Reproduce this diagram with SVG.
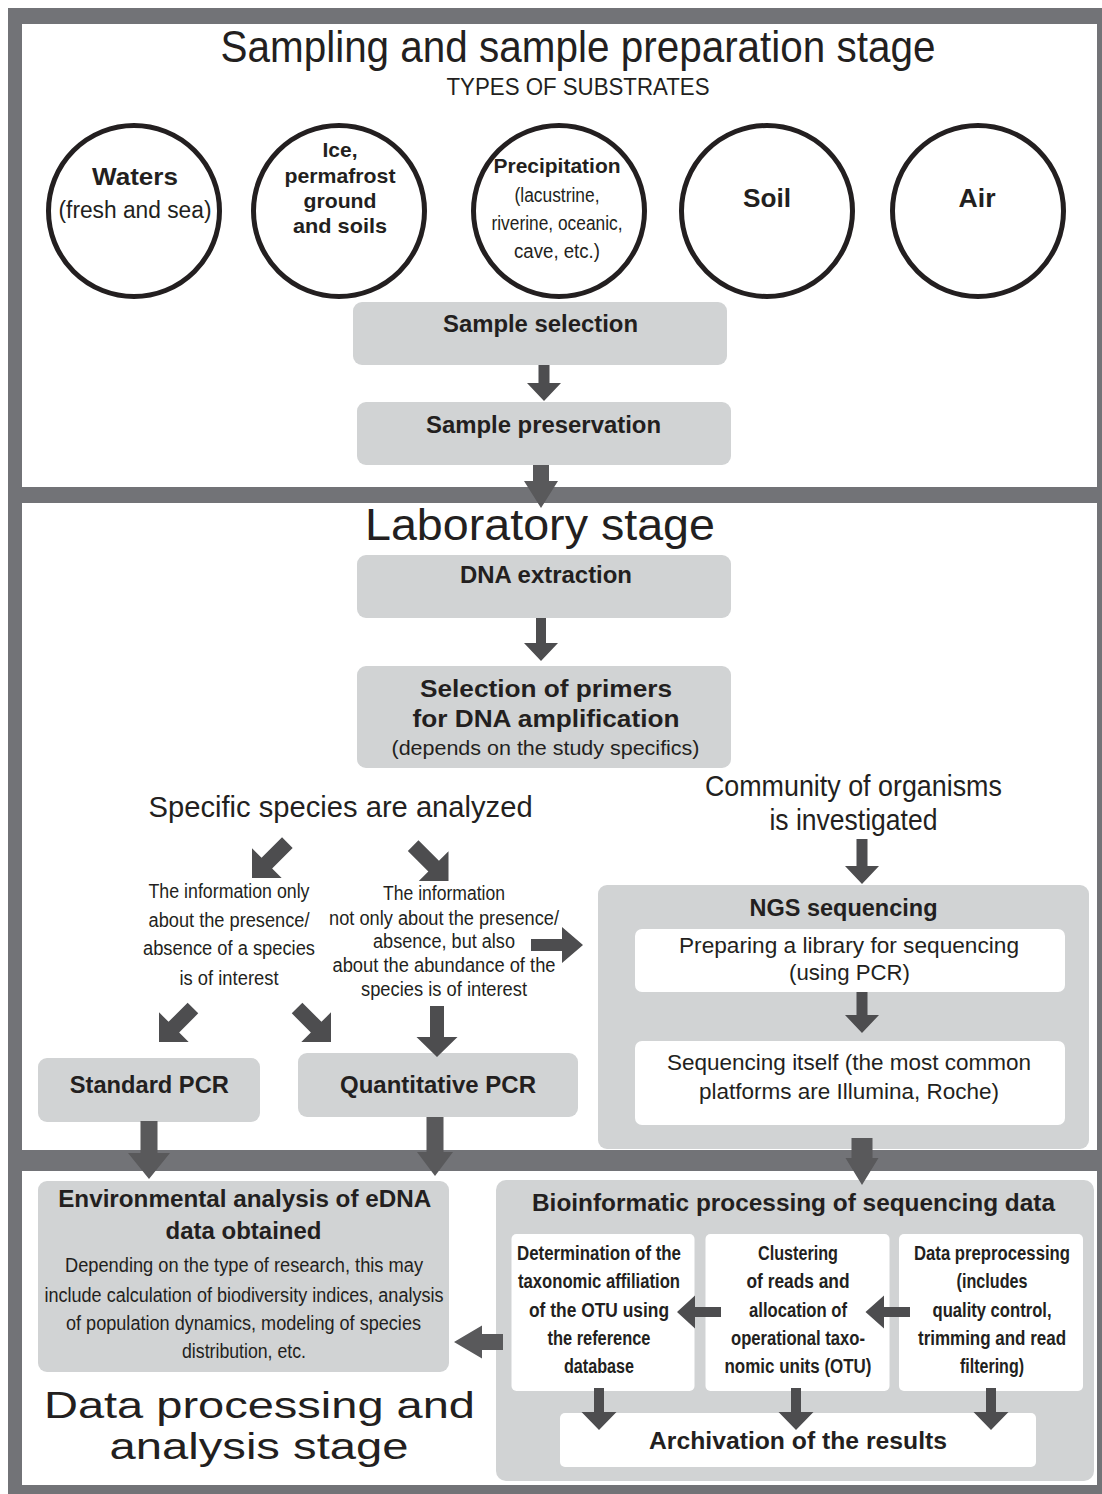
<svg xmlns="http://www.w3.org/2000/svg" width="1102" height="1494" viewBox="0 0 1102 1494">
<style>
text{font-family:"Liberation Sans",Arial,sans-serif;fill:#231f20;text-anchor:middle}
.b{font-weight:bold}
.box{fill:#d1d3d4}
.wbox{fill:#ffffff}
.circ{fill:#ffffff;stroke:#231f20;stroke-width:5}
.arr{fill:#4d4d4f}
.arr2{fill:#59595b}
.frame{fill:#727377}
.panel{fill:#ffffff}
</style>
<rect x="0" y="0" width="1102" height="1494" fill="#ffffff"/>
<g id="frame">
<rect class="frame" x="8" y="8" width="1094" height="1486"/>
<rect class="panel" x="22" y="24" width="1075" height="463"/>
<rect class="panel" x="22" y="503" width="1075" height="647"/>
<rect class="panel" x="22" y="1171" width="1075" height="314"/>
</g>
<g id="stage1-title">
<text x="578" y="62" font-size="45" textLength="715" lengthAdjust="spacingAndGlyphs">Sampling and sample preparation stage</text>
<text x="578" y="95" font-size="24" textLength="263" lengthAdjust="spacingAndGlyphs">TYPES OF SUBSTRATES</text>
</g>
<g id="waters">
<circle class="circ" cx="134" cy="211" r="85.5"/>
<text class="b" x="135" y="185" font-size="24" textLength="86" lengthAdjust="spacingAndGlyphs">Waters</text>
<text x="135" y="218" font-size="23" textLength="153" lengthAdjust="spacingAndGlyphs">(fresh and sea)</text>
</g>
<g id="ice">
<circle class="circ" cx="339" cy="211" r="85.5"/>
<text class="b" x="340" y="157" font-size="21" textLength="35" lengthAdjust="spacingAndGlyphs">Ice,</text>
<text class="b" x="340" y="183" font-size="21" textLength="111" lengthAdjust="spacingAndGlyphs">permafrost</text>
<text class="b" x="340" y="208" font-size="21" textLength="73" lengthAdjust="spacingAndGlyphs">ground</text>
<text class="b" x="340" y="233" font-size="21" textLength="94" lengthAdjust="spacingAndGlyphs">and soils</text>
</g>
<g id="precipitation">
<circle class="circ" cx="559" cy="211" r="85.5"/>
<text class="b" x="557" y="173" font-size="20" textLength="127" lengthAdjust="spacingAndGlyphs">Precipitation</text>
<text x="557" y="202" font-size="20" textLength="85" lengthAdjust="spacingAndGlyphs">(lacustrine,</text>
<text x="557" y="230" font-size="20" textLength="131" lengthAdjust="spacingAndGlyphs">riverine, oceanic,</text>
<text x="557" y="258" font-size="20" textLength="86" lengthAdjust="spacingAndGlyphs">cave, etc.)</text>
</g>
<g id="soil">
<circle class="circ" cx="767" cy="211" r="85.5"/>
<text class="b" x="767" y="207" font-size="26" textLength="48" lengthAdjust="spacingAndGlyphs">Soil</text>
</g>
<g id="air">
<circle class="circ" cx="978" cy="211" r="85.5"/>
<text class="b" x="977" y="207" font-size="26" textLength="37" lengthAdjust="spacingAndGlyphs">Air</text>
</g>
<g id="sample-selection">
<rect class="box" x="353" y="302" width="374" height="63" rx="9"/>
<text class="b" x="540.5" y="332" font-size="23" textLength="195" lengthAdjust="spacingAndGlyphs">Sample selection</text>
</g>
<g id="sample-preservation">
<rect class="box" x="357" y="402" width="374" height="63" rx="9"/>
<text class="b" x="543.5" y="433" font-size="23" textLength="235" lengthAdjust="spacingAndGlyphs">Sample preservation</text>
</g>
<g id="stage2-title">
<text x="540" y="540" font-size="44" textLength="350" lengthAdjust="spacingAndGlyphs">Laboratory stage</text>
</g>
<g id="dna-extraction">
<rect class="box" x="357" y="555" width="374" height="63" rx="9"/>
<text class="b" x="546" y="583" font-size="23" textLength="172" lengthAdjust="spacingAndGlyphs">DNA extraction</text>
</g>
<g id="primers">
<rect class="box" x="357" y="666" width="374" height="102" rx="9"/>
<text class="b" x="546" y="697" font-size="23" textLength="252" lengthAdjust="spacingAndGlyphs">Selection of primers</text>
<text class="b" x="546" y="727" font-size="23" textLength="267" lengthAdjust="spacingAndGlyphs">for DNA amplification</text>
<text x="545.5" y="755" font-size="20" textLength="308" lengthAdjust="spacingAndGlyphs">(depends on the study specifics)</text>
</g>
<g id="specific-species">
<text x="340.6" y="817" font-size="30" textLength="384" lengthAdjust="spacingAndGlyphs">Specific species are analyzed</text>
</g>
<g id="presence-info">
<text x="229" y="898" font-size="20" textLength="161" lengthAdjust="spacingAndGlyphs">The information only</text>
<text x="229" y="927" font-size="20" textLength="161" lengthAdjust="spacingAndGlyphs">about the presence/</text>
<text x="229" y="955" font-size="20" textLength="172" lengthAdjust="spacingAndGlyphs">absence of a species</text>
<text x="229" y="985" font-size="20" textLength="99" lengthAdjust="spacingAndGlyphs">is of interest</text>
</g>
<g id="abundance-info">
<text x="444" y="900" font-size="20" textLength="122" lengthAdjust="spacingAndGlyphs">The information</text>
<text x="444" y="925" font-size="20" textLength="230" lengthAdjust="spacingAndGlyphs">not only about the presence/</text>
<text x="444" y="948" font-size="20" textLength="142" lengthAdjust="spacingAndGlyphs">absence, but also</text>
<text x="444" y="972" font-size="20" textLength="223" lengthAdjust="spacingAndGlyphs">about the abundance of the</text>
<text x="444" y="996" font-size="20" textLength="166" lengthAdjust="spacingAndGlyphs">species is of interest</text>
</g>
<g id="community">
<text x="853.4" y="796" font-size="30" textLength="297" lengthAdjust="spacingAndGlyphs">Community of organisms</text>
<text x="853.4" y="830" font-size="30" textLength="168" lengthAdjust="spacingAndGlyphs">is investigated</text>
</g>
<g id="standard-pcr">
<rect class="box" x="38" y="1058" width="222" height="64" rx="9"/>
<text class="b" x="149.3" y="1093" font-size="23" textLength="159" lengthAdjust="spacingAndGlyphs">Standard PCR</text>
</g>
<g id="quantitative-pcr">
<rect class="box" x="298" y="1053" width="280" height="64" rx="9"/>
<text class="b" x="438" y="1093" font-size="23" textLength="196" lengthAdjust="spacingAndGlyphs">Quantitative PCR</text>
</g>
<g id="ngs">
<rect class="box" x="598" y="885" width="491" height="264" rx="9"/>
<text class="b" x="843.5" y="916" font-size="23" textLength="188" lengthAdjust="spacingAndGlyphs">NGS sequencing</text>
</g>
<g id="library">
<rect class="wbox" x="635" y="929" width="430" height="63" rx="7"/>
<text x="849" y="953" font-size="22" textLength="340" lengthAdjust="spacingAndGlyphs">Preparing a library for sequencing</text>
<text x="849.5" y="980" font-size="22" textLength="121" lengthAdjust="spacingAndGlyphs">(using PCR)</text>
</g>
<g id="sequencing">
<rect class="wbox" x="635" y="1041" width="430" height="84" rx="7"/>
<text x="849" y="1070" font-size="22" textLength="364" lengthAdjust="spacingAndGlyphs">Sequencing itself (the most common</text>
<text x="849" y="1099" font-size="22" textLength="300" lengthAdjust="spacingAndGlyphs">platforms are Illumina, Roche)</text>
</g>
<g id="environmental">
<rect class="box" x="38" y="1181" width="411" height="191" rx="9"/>
<text class="b" x="244.7" y="1207" font-size="23" textLength="373" lengthAdjust="spacingAndGlyphs">Environmental analysis of eDNA</text>
<text class="b" x="243.5" y="1239" font-size="23" textLength="156" lengthAdjust="spacingAndGlyphs">data obtained</text>
<text x="244" y="1272" font-size="20" textLength="358" lengthAdjust="spacingAndGlyphs">Depending on the type of research, this may</text>
<text x="244" y="1302" font-size="20" textLength="399" lengthAdjust="spacingAndGlyphs">include calculation of biodiversity indices, analysis</text>
<text x="243.5" y="1330" font-size="20" textLength="355" lengthAdjust="spacingAndGlyphs">of population dynamics, modeling of species</text>
<text x="244" y="1358" font-size="20" textLength="124" lengthAdjust="spacingAndGlyphs">distribution, etc.</text>
</g>
<g id="stage3-title">
<text x="259.5" y="1418" font-size="36" textLength="431" lengthAdjust="spacingAndGlyphs">Data processing and</text>
<text x="259" y="1459" font-size="36" textLength="299" lengthAdjust="spacingAndGlyphs">analysis stage</text>
</g>
<g id="bioinformatic">
<rect class="box" x="496" y="1180" width="598" height="301" rx="10"/>
<text class="b" x="793.5" y="1211" font-size="23" textLength="523" lengthAdjust="spacingAndGlyphs">Bioinformatic processing of sequencing data</text>
</g>
<g id="taxonomy">
<rect class="wbox" x="511.5" y="1234" width="183" height="157" rx="5"/>
<text class="b" x="599" y="1260" font-size="20" textLength="164" lengthAdjust="spacingAndGlyphs">Determination of the</text>
<text class="b" x="599" y="1288" font-size="20" textLength="162" lengthAdjust="spacingAndGlyphs">taxonomic affiliation</text>
<text class="b" x="599" y="1317" font-size="20" textLength="140" lengthAdjust="spacingAndGlyphs">of the OTU using</text>
<text class="b" x="599" y="1345" font-size="20" textLength="103" lengthAdjust="spacingAndGlyphs">the reference</text>
<text class="b" x="599" y="1373" font-size="20" textLength="70" lengthAdjust="spacingAndGlyphs">database</text>
</g>
<g id="clustering">
<rect class="wbox" x="705.5" y="1234" width="184" height="157" rx="5"/>
<text class="b" x="798" y="1260" font-size="20" textLength="80" lengthAdjust="spacingAndGlyphs">Clustering</text>
<text class="b" x="798" y="1288" font-size="20" textLength="103" lengthAdjust="spacingAndGlyphs">of reads and</text>
<text class="b" x="798" y="1317" font-size="20" textLength="98" lengthAdjust="spacingAndGlyphs">allocation of</text>
<text class="b" x="798" y="1345" font-size="20" textLength="134" lengthAdjust="spacingAndGlyphs">operational taxo-</text>
<text class="b" x="798" y="1373" font-size="20" textLength="147" lengthAdjust="spacingAndGlyphs">nomic units (OTU)</text>
</g>
<g id="preprocessing">
<rect class="wbox" x="899" y="1234" width="184" height="157" rx="5"/>
<text class="b" x="992" y="1260" font-size="20" textLength="156" lengthAdjust="spacingAndGlyphs">Data preprocessing</text>
<text class="b" x="992" y="1288" font-size="20" textLength="71" lengthAdjust="spacingAndGlyphs">(includes</text>
<text class="b" x="992" y="1317" font-size="20" textLength="119" lengthAdjust="spacingAndGlyphs">quality control,</text>
<text class="b" x="992" y="1345" font-size="20" textLength="148" lengthAdjust="spacingAndGlyphs">trimming and read</text>
<text class="b" x="992" y="1373" font-size="20" textLength="64" lengthAdjust="spacingAndGlyphs">filtering)</text>
</g>
<g id="archivation">
<rect class="wbox" x="560" y="1413" width="476" height="54" rx="5"/>
<text class="b" x="798" y="1449" font-size="23" textLength="298" lengthAdjust="spacingAndGlyphs">Archivation of the results</text>
</g>
<g id="connectors">
<polygon class="arr" points="538.5,365 549.5,365 549.5,383 561,383 544,401 527,383 538.5,383"/>
<polygon class="arr2" points="533,465 549,465 549,481 558,481 541,508 524,481 533,481"/>
<polygon class="arr" points="536,618 546,618 546,643 558,643 541,661 524,643 536,643"/>
<polygon class="arr" points="856.5,839 867.5,839 867.5,866 879,866 862,884 845,866 856.5,866"/>
<polygon class="arr" points="856.5,992 867.5,992 867.5,1015 879,1015 862,1033 845,1015 856.5,1015"/>
<polygon class="arr" points="430,1006 444,1006 444,1037 457.5,1037 437,1057 416.5,1037 430,1037"/>
<polygon class="arr2" points="140.5,1121 157.5,1121 157.5,1153 170,1153 149,1179 128,1153 140.5,1153"/>
<polygon class="arr2" points="426.5,1117 443.5,1117 443.5,1152 453,1152 435,1176 417,1152 426.5,1152"/>
<polygon class="arr2" points="851.5,1138 872.5,1138 872.5,1158 878.5,1158 862,1185 845.5,1158 851.5,1158"/>
<polygon class="arr" points="594,1388 604,1388 604,1412 616.5,1412 599,1430 581.5,1412 594,1412"/>
<polygon class="arr" points="791,1388 801,1388 801,1412 813.5,1412 796,1430 778.5,1412 791,1412"/>
<polygon class="arr" points="986,1388 996,1388 996,1412 1008.5,1412 991,1430 973.5,1412 986,1412"/>
<polygon class="arr" points="531,939 562,939 562,927 583,945 562,963 562,951 531,951"/>
<polygon class="arr" points="910,1307 884,1307 884,1295.5 865.5,1312 884,1328.5 884,1317 910,1317"/>
<polygon class="arr" points="721,1307 695,1307 695,1295.5 677,1312 695,1328.5 695,1317 721,1317"/>
<polygon class="arr2" points="503,1334 482,1334 482,1325.5 454,1342 482,1358.5 482,1350 503,1350"/>
<polygon class="arr" transform="translate(252,878) rotate(45)" points="-7.5,-50 7.5,-50 7.5,-21 21,-21 0,0 -21,-21 -7.5,-21"/>
<polygon class="arr" transform="translate(448.5,881) rotate(-45)" points="-7.5,-50 7.5,-50 7.5,-21 21,-21 0,0 -21,-21 -7.5,-21"/>
<polygon class="arr" transform="translate(159,1042) rotate(45)" points="-7.5,-48 7.5,-48 7.5,-21 21,-21 0,0 -21,-21 -7.5,-21"/>
<polygon class="arr" transform="translate(331,1042) rotate(-45)" points="-7.5,-48 7.5,-48 7.5,-21 21,-21 0,0 -21,-21 -7.5,-21"/>
</g>
</svg>
